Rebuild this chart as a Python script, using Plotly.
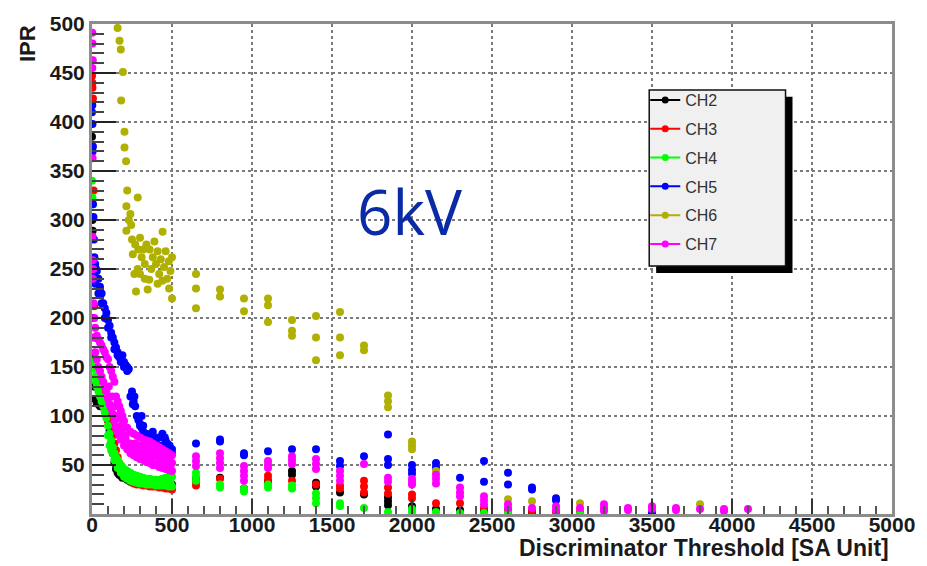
import plotly.graph_objects as go

# ---------------- data: IPR vs discriminator threshold, 6 kV ----------------
# fine scan 0..500 (dense) and coarse scan 650..4100 (step 150)

ch2_scan_x = [0, 2, 4, 6, 10, 15, 20, 30, 40, 50, 60, 70, 80, 90, 100, 110, 120, 130, 140, 150,
              160, 170, 180, 190, 200, 220, 240, 260, 280, 300, 320, 340, 360, 380, 400, 420, 440, 460, 480, 500]
ch2_scan_y = [385, 300, 289, 200, 160, 130, 117, 113, 112, 110, 112, 110, 108, 106, 96, 85, 72, 62, 52, 46,
              42, 40, 39, 37, 38, 35, 33, 33, 32, 32, 31, 31, 30, 30, 30, 29, 31, 30, 36, 30]
ch2_col_x = [650, 800, 950, 1100, 1250, 1250, 1400, 1400, 1550, 1700, 1850, 1850, 1850, 2000, 2150, 2300, 2450, 2600, 2750]
ch2_col_y = [36, 37, 26, 33, 44, 40, 32, 28, 22, 20, 17, 13, 9, 8, 5, 4, 3, 2, 2]

ch3_scan_x = [0, 3, 6, 10, 14, 20, 30, 40, 50, 60, 70, 80, 90, 100, 110, 120, 130, 140, 150, 160,
              170, 180, 190, 200, 220, 240, 260, 280, 300, 320, 340, 360, 380, 400, 420, 440, 460, 480, 500, 2]
ch3_scan_y = [447, 435, 424, 330, 212, 180, 150, 135, 125, 118, 112, 105, 100, 95, 90, 86, 80, 72, 65, 58,
              52, 48, 45, 42, 38, 34, 31, 30, 30, 29, 29, 28, 28, 28, 27, 27, 26, 26, 25, 440]
ch3_col_x = [650, 650, 800, 950, 1100, 1100, 1250, 1400, 1550, 1550, 1700, 1700, 1700, 1850, 1850, 2000, 2000,
             2150, 2300, 2450, 2600, 2750, 2900, 3050]
ch3_col_y = [29, 33, 36, 25, 39, 35, 34, 30, 29, 26, 34, 28, 22, 27, 21, 20, 16,
             11, 11, 6, 4, 3, 2, 2]

ch4_scan_x = [0, 3, 6, 10, 15, 20, 25, 30, 40, 50, 60, 70, 80, 90, 100, 110, 120, 130, 140, 150,
              160, 170, 180, 190, 200, 210, 220, 240, 260, 280, 300, 320, 340, 360, 380, 400, 420, 440, 460, 480, 500,
              100, 120, 140, 160, 180, 200, 220, 240, 260, 280, 300, 320, 340, 360, 380, 400, 420, 440, 460, 480, 500,
              110, 130, 150, 170, 190, 210, 230, 250, 270, 290, 310, 330, 350, 370, 390, 410, 430, 450, 470, 490]
ch4_scan_y = [340, 323, 316, 155, 148, 140, 135, 130, 125, 120, 115, 110, 104, 98, 90, 82, 75, 68, 62, 58,
              55, 52, 50, 48, 46, 45, 44, 42, 40, 39, 38, 37, 36, 36, 35, 35, 35, 36, 37, 38, 38,
              80, 65, 55, 47, 42, 38, 36, 34, 33, 32, 31, 31, 30, 30, 30, 29, 29, 29, 29, 28, 28,
              70, 62, 52, 48, 44, 40, 40, 37, 36, 35, 34, 33, 33, 32, 33, 32, 33, 32, 33, 33]
ch4_col_x = [650, 650, 650, 800, 800, 950, 950, 1100, 1100, 1250, 1250, 1400, 1400, 1400, 1550, 1550, 1700,
             1850, 2000, 2000, 2150, 2300, 2450, 2600, 3050]
ch4_col_y = [42, 38, 34, 30, 27, 26, 23, 27, 30, 26, 29, 21, 16, 11, 11, 8, 6,
             2, 5, 2, 2, 1, 1, 1, 0]

ch5_scan_x = [0, 3, 6, 9, 12, 15, 20, 25, 30, 40, 50, 60, 70, 80, 90, 100, 110, 120, 130, 140,
              150, 160, 170, 180, 190, 200, 210, 220, 230, 240, 250, 260, 270, 280, 290, 300, 310, 320, 340, 360,
              380, 400, 420, 440, 460, 480, 500,
              20, 40, 60, 80, 100, 120, 140, 160, 180, 200, 220, 320, 350, 380, 410, 440, 470, 500,
              2, 4, 6, 12,
              255, 265, 300, 310, 345, 365, 395, 425, 455, 485]
ch5_scan_y = [410, 398, 375, 303, 280, 262, 255, 250, 248, 240, 232, 225, 215, 210, 205, 198, 192, 185, 180, 175,
              170, 165, 160, 158, 162, 155, 152, 150, 148, 120, 125, 115, 110, 100, 96, 92, 88, 90, 82, 76,
              80, 72, 78, 70, 75, 68, 66,
              235, 225, 215, 200, 190, 180, 168, 162, 155, 150, 146, 84, 72, 84, 66, 82, 72, 62,
              417, 370, 316, 245,
              112, 120, 90, 100, 70, 80, 76, 64, 78, 70]
ch5_col_x = [650, 800, 800, 950, 950, 1100, 1250, 1400, 1550, 1550, 1700, 1850, 1850, 1850, 2000, 2000, 2000,
             2150, 2150, 2300, 2450, 2450, 2600, 2600, 2750, 2750, 2900, 2900, 3500]
ch5_col_y = [72, 74, 76, 62, 60, 64, 66, 66, 54, 49, 59, 81, 56, 50, 50, 45, 41,
             52, 48, 37, 54, 33, 42, 30, 27, 25, 16, 14, 1]

ch6_scan_x = [160, 172, 180, 193, 182, 203, 203, 213, 220, 286, 215, 240, 215, 441,
              250, 270, 290, 300, 310, 320, 330, 340, 360, 370, 380, 390, 400, 410, 420, 430, 450, 460,
              470, 480, 490, 500, 265, 358, 275, 348, 482, 500, 330, 410, 440, 255, 285, 300, 230, 245]
ch6_scan_y = [496, 483, 474, 451, 422, 390, 374, 360, 330, 323, 314, 306, 289, 288,
              280, 275, 270, 282, 262, 270, 255, 275, 270, 250, 262, 278, 255, 268, 245, 260, 252, 268,
              240, 258, 248, 262, 245, 239, 227, 229, 230, 220, 240, 235, 238, 265, 250, 245, 300, 295]
ch6_col_x = [650, 650, 650, 800, 800, 950, 950, 1100, 1100, 1100, 1250, 1250, 1250, 1400, 1400, 1400,
             1550, 1550, 1550, 1700, 1700, 1850, 1850, 1850, 2000, 2000, 2000, 2150, 2600, 2750, 3050, 3800]
ch6_col_y = [245, 230, 210, 229, 222, 220, 207, 220, 213, 196, 198, 187, 182, 202, 180, 157,
             206, 180, 162, 172, 167, 121, 115, 109, 74, 70, 66, 44, 15, 13, 11, 10]

ch7_scan_x = [5, 10, 15, 20, 30, 40, 50, 60, 70, 80, 90, 100, 110, 120, 130, 140, 150, 160, 170, 180,
              190, 200, 220, 240, 260, 280, 300, 320, 340, 360, 380, 400, 420, 440, 460, 480, 500,
              10, 20, 30, 40, 50, 60, 70, 80, 90, 100, 110, 120, 130, 140, 150, 160, 170, 180, 200, 220,
              240, 260, 280, 300, 320, 340, 360, 380, 400, 420, 440, 460, 480, 500,
              150, 180, 210, 240, 270, 300, 330, 360, 390, 420, 450, 480, 500,
              2, 3, 5, 2, 4, 3, 5, 8,
              210, 230, 250, 270, 290, 310, 330, 350, 370, 390, 410, 430, 450, 470, 490,
              105, 125, 145, 165, 185, 195]
ch7_scan_y = [240, 215, 200, 190, 182, 178, 175, 172, 168, 165, 160, 158, 150, 146, 140, 135, 120, 115, 110, 105,
              100, 95, 88, 84, 82, 80, 78, 76, 75, 74, 72, 70, 68, 66, 64, 62, 60,
              180, 165, 158, 150, 146, 140, 135, 130, 125, 118, 112, 108, 102, 95, 88, 84, 80, 76, 70, 66,
              62, 60, 58, 56, 55, 53, 52, 50, 50, 48, 47, 46, 45, 44,
              100, 90, 80, 72, 68, 66, 64, 62, 60, 58, 56, 54, 52,
              491, 480, 463, 455, 363, 283, 259, 250,
              76, 70, 66, 72, 62, 70, 58, 68, 56, 64, 52, 62, 50, 58, 48,
              130, 120, 110, 98, 86, 92]
ch7_col_x = [650, 650, 650, 800, 800, 800, 800, 950, 950, 950, 950, 1100, 1100, 1100, 1250, 1250, 1250,
             1400, 1400, 1400, 1550, 1550, 1550, 1700, 1850, 1850, 2000, 2000, 2000, 2150, 2150, 2150,
             2300, 2300, 2300, 2450, 2450, 2450, 2600, 2600, 2750, 2900, 2900, 3050, 3200, 3200, 3200,
             3350, 3350, 3500, 3500, 3650, 3650, 3800, 3950, 3950, 4100]
ch7_col_y = [59, 54, 49, 62, 57, 52, 47, 49, 44, 39, 34, 54, 50, 47, 59, 55, 51,
             56, 51, 46, 44, 39, 34, 51, 37, 33, 36, 33, 30, 40, 36, 31,
             27, 22, 18, 18, 14, 10, 10, 6, 6, 8, 4, 6, 10, 6, 3,
             6, 4, 8, 5, 6, 4, 5, 5, 3, 5]

channels = ["CH2", "CH3", "CH4", "CH5", "CH6", "CH7"]
colors = ["#000000", "#ff0000", "#00ff00", "#0000ff", "#b0b000", "#ff00ff"]
xs = [ch2_scan_x + ch2_col_x, ch3_scan_x + ch3_col_x, ch4_scan_x + ch4_col_x,
      ch5_scan_x + ch5_col_x, ch6_scan_x + ch6_col_x, ch7_scan_x + ch7_col_x]
ys = [ch2_scan_y + ch2_col_y, ch3_scan_y + ch3_col_y, ch4_scan_y + ch4_col_y,
      ch5_scan_y + ch5_col_y, ch6_scan_y + ch6_col_y, ch7_scan_y + ch7_col_y]

x_ticks = [0, 500, 1000, 1500, 2000, 2500, 3000, 3500, 4000, 4500, 5000]
y_ticks = [50, 100, 150, 200, 250, 300, 350, 400, 450, 500]

# ---------------- layout geometry (pixels) ----------------
W, H = 927, 566
ML, MR, MT, MB = 92, 31, 16, 52
PW, PH = W - ML - MR, H - MT - MB


def fx(px):
    return (px - ML) / PW


def fy(py):
    return (H - MB - py) / PH


fig = go.Figure()

for name, col, x, y in zip(channels, colors, xs, ys):
    fig.add_trace(go.Scatter(
        x=x, y=y, mode="markers", name=name, legendgroup=name, showlegend=False,
        marker=dict(color=col, size=8, line=dict(width=0)),
        cliponaxis=True,
    ))

# legend entries drawn as line + marker
for name, col in zip(channels, colors):
    fig.add_trace(go.Scatter(
        x=[None], y=[None], mode="lines+markers", name=name, legendgroup=name,
        line=dict(color=col, width=2), marker=dict(color=col, size=7),
    ))

tick_font = dict(family="Liberation Sans", size=21, color="#1a1a1a", weight="bold")

fig.update_xaxes(
    range=[0, 5000], tickvals=x_ticks, ticktext=[str(v) for v in x_ticks],
    showline=True, linecolor="#8c8c8c", linewidth=3, mirror=True,
    ticks="inside", ticklen=15, tickwidth=2, tickcolor="#333",
    minor=dict(ticks="inside", ticklen=8, tickwidth=2, tickcolor="#555", dtick=100, tick0=0, showgrid=False),
    showgrid=True, gridcolor="#7a7a7a", gridwidth=1.5, griddash="dot",
    tickfont=tick_font, zeroline=False, ticklabelstandoff=-10,
)
fig.update_yaxes(
    range=[0, 500], tickvals=y_ticks, ticktext=[str(v) for v in y_ticks],
    showline=True, linecolor="#8c8c8c", linewidth=3, mirror=True,
    ticks="inside", ticklen=24, tickwidth=2, tickcolor="#222",
    minor=dict(ticks="inside", ticklen=12, tickwidth=2, tickcolor="#444", dtick=10, tick0=0, showgrid=False),
    showgrid=True, gridcolor="#7a7a7a", gridwidth=1.5, griddash="dot",
    tickfont=tick_font, zeroline=False,
)

# legend frame with drop shadow
box_l, box_t, box_r, box_b = 652, 83, 789, 262
shadow = 7
fig.add_shape(type="rect", xref="paper", yref="paper",
              x0=fx(box_l + shadow), x1=fx(box_r + shadow), y0=fy(box_b + shadow), y1=fy(box_t + shadow),
              fillcolor="#000000", line=dict(width=0), layer="above")
fig.add_shape(type="rect", xref="paper", yref="paper",
              x0=fx(box_l), x1=fx(box_r), y0=fy(box_b), y1=fy(box_t),
              fillcolor="#f0f0f0", line=dict(color="#111", width=1.5), layer="above")

fig.add_annotation(text="6kV", xref="paper", yref="paper", x=fx(411), y=fy(206),
                   xanchor="center", yanchor="middle", showarrow=False,
                   font=dict(family="Open Sans", size=62, color="#0a2aa6"))
fig.add_annotation(text="IPR", xref="paper", yref="paper", x=fx(27), y=fy(36),
                   xanchor="center", yanchor="middle", showarrow=False, textangle=-90,
                   font=dict(family="Liberation Sans", size=22, color="#1a1a1a", weight="bold"))
fig.add_annotation(text="Discriminator Threshold [SA Unit]", xref="paper", yref="paper",
                   x=fx(895), y=fy(549), xanchor="right", yanchor="middle", showarrow=False,
                   font=dict(family="Liberation Sans", size=23, color="#1a1a1a", weight="bold"))

fig.update_layout(
    width=W, height=H,
    margin=dict(l=ML, r=MR, t=MT, b=MB, pad=0),
    paper_bgcolor="white", plot_bgcolor="white",
    legend=dict(x=fx(648), y=fy(76), xanchor="left", yanchor="top",
                bgcolor="rgba(0,0,0,0)", borderwidth=0, tracegroupgap=5,
                font=dict(family="Liberation Sans", size=16, color="#333")),
    showlegend=True,
)

fig.write_html("out.html")
